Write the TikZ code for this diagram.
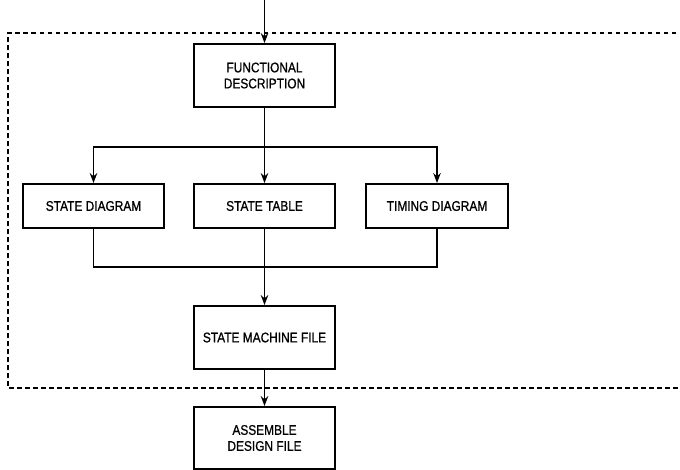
\documentclass[tikz,border=0pt]{standalone}
\usepackage{fontspec}
\setmainfont{Liberation Sans}[FakeStretch=0.85,FakeBold=0.8]
\usetikzlibrary{arrows.meta}
\begin{document}
\begin{tikzpicture}[x=1pt,y=-1pt,
  box/.style={draw,line width=1.9pt,minimum width=141pt,align=center,font=\fontsize{14}{16}\selectfont,inner sep=0pt},
  conn/.style={line width=1.1pt},
  arr/.style={conn,-{Stealth[length=10pt,width=7.5pt]}},
  dashframe/.style={line width=1.4pt,dash pattern=on 4.5pt off 3.5pt}]
\useasboundingbox (0,0) rectangle (680,469);
\node[box,minimum height=63pt] (FD) at (264.5,75.5) {FUNCTIONAL\\DESCRIPTION};
\node[box,minimum height=44pt] (SD) at (93.5,206) {STATE DIAGRAM};
\node[box,minimum height=44pt] (ST) at (264.5,206) {STATE TABLE};
\node[box,minimum height=44pt,minimum width=142pt] (TD) at (437,206) {TIMING DIAGRAM};
\node[box,minimum height=63pt] (SMF) at (264.5,337.5) {STATE MACHINE FILE};
\node[box,minimum height=62pt] (ADF) at (264.5,438) {ASSEMBLE\\DESIGN FILE};
\coordinate (in) at (264.5,0);
\coordinate (b) at (264.5,147);
\coordinate (m) at (264.5,267);
\draw[arr] (in) -- (FD.north);
\draw[conn] (FD.south) -- (b);
\draw[arr] (b) -| (SD.north);
\draw[arr] (b) -| (TD.north);
\draw[arr] (b) -- (ST.north);
\draw[conn] (SD.south) |- (m);
\draw[conn] (TD.south) |- (m);
\draw[conn] (ST.south) -- (m);
\draw[arr] (m) -- (SMF.north);
\draw[arr] (SMF.south) -- (ADF.north);
\draw[dashframe] (700,33) -- (8,33) -- (8,388) -- (700,388);
\end{tikzpicture}
\end{document}
